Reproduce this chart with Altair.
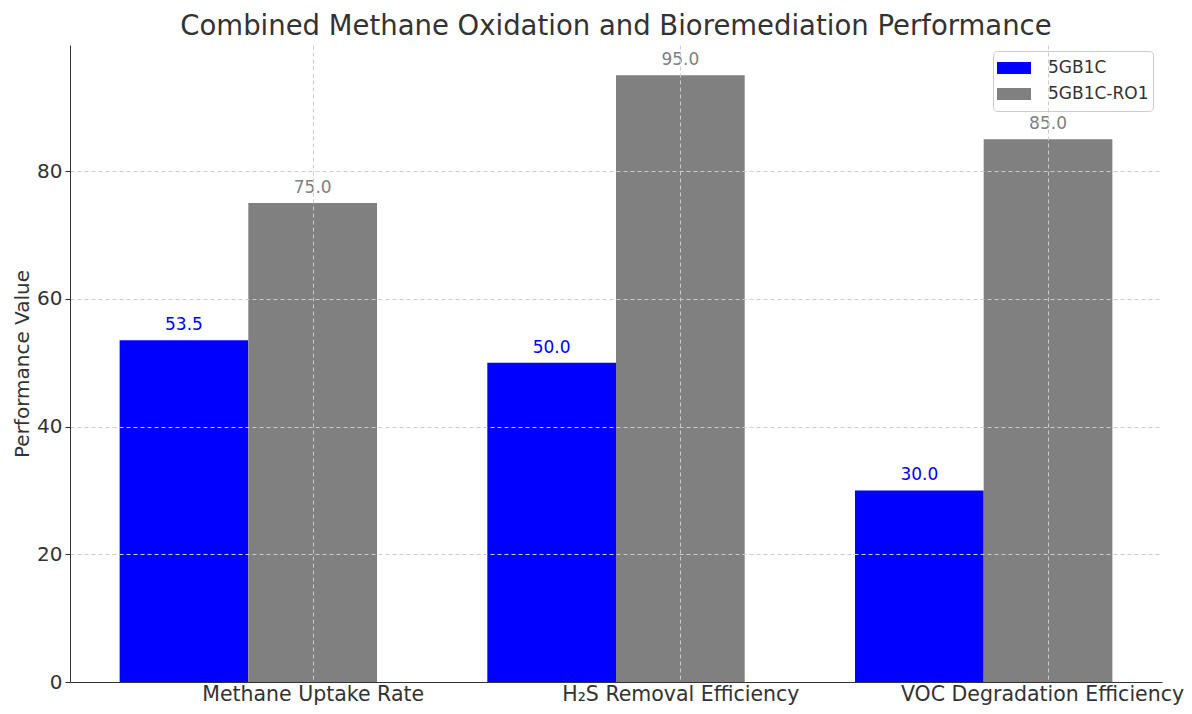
import json
import altair as alt
import pandas as pd

categories = ["Methane Uptake Rate", "H\u2082S Removal Efficiency", "VOC Degradation Efficiency"]
series = ["5GB1C", "5GB1C-RO1"]
values_5gb1c = [53.5, 50.0, 30.0]
values_ro1 = [75.0, 95.0, 85.0]
colors = ["#0000ff", "#808080"]
y_ticks = [0, 20, 40, 60, 80]

BAR_W = 0.35
offsets = {"5GB1C": -BAR_W, "5GB1C-RO1": 0.0}

rows = []
for i, c in enumerate(categories):
    for s, vals in zip(series, [values_5gb1c, values_ro1]):
        center = i + offsets[s]
        rows.append({"category": c, "series": s, "value": vals[i],
                     "x0": center - BAR_W / 2, "x1": center + BAR_W / 2, "xc": center})
df = pd.DataFrame(rows)

FONT = "DejaVu Sans"
label_expr = json.dumps(categories, ensure_ascii=False) + "[round(datum.value)]"

xscale = alt.Scale(domain=[-0.66, 2.31], nice=False, zero=False)
yscale = alt.Scale(domain=[0, 99.75], nice=False)
cscale = alt.Scale(domain=series, range=colors)

x_axis = alt.Axis(
    values=[0, 1, 2], labelExpr=label_expr, title=None, grid=True,
    gridDash=[4, 3], gridColor="#cccccc", domainColor="#333333",
    tickColor="#333333", tickSize=0, labelFontSize=20.5, labelFont=FONT,
    labelColor="#333333", labelPadding=2, zindex=1, labelFlush=False,
    labelLimit=500, labelOverlap=False,
    labelOffset={"condition": {"test": "datum.value == 2", "value": -6}, "value": 0})
y_axis = alt.Axis(
    values=y_ticks, title="Performance Value", grid=True, gridDash=[4, 3],
    gridColor="#cccccc", domainColor="#333333", tickColor="#333333",
    tickSize=5, labelFontSize=20, labelFont=FONT, labelColor="#333333",
    titleFontSize=20, titleFont=FONT, titleFontWeight="normal",
    titleColor="#333333", titlePadding=4, labelPadding=3, zindex=1)

bars = alt.Chart(df).mark_bar().encode(
    x=alt.X("x0:Q", scale=xscale, axis=x_axis),
    x2="x1:Q",
    y=alt.Y("value:Q", scale=yscale, axis=y_axis),
    y2=alt.datum(0),
    color=alt.Color("series:N", scale=cscale, legend=alt.Legend(
        title=None, orient="none", legendX=923, legendY=6,
        symbolType="M-1,-0.35H1V0.35H-1Z", symbolSize=1156,
        symbolStrokeWidth=0, labelFontSize=17, labelFont=FONT,
        labelColor="#333333", labelOffset=17, clipHeight=26, rowPadding=0,
        padding=4, strokeColor="#cccccc", fillColor="white",
        cornerRadius=4)),
)

texts = alt.Chart(df).mark_text(baseline="bottom", dy=-6, fontSize=17, font=FONT).encode(
    x=alt.X("xc:Q", scale=xscale, axis=x_axis),
    y=alt.Y("value:Q", scale=yscale, axis=y_axis),
    text=alt.Text("value:Q", format=".1f"),
    color=alt.Color("series:N", scale=cscale, legend=None),
)

chart = alt.layer(bars, texts).properties(
    width=1092, height=637,
    title=alt.TitleParams("Combined Methane Oxidation and Bioremediation Performance",
                          fontSize=27.5, font=FONT, fontWeight="normal",
                          color="#333333", anchor="middle", offset=5),
    autosize=alt.AutoSizeParams(type="none"),
    padding={"left": 62, "top": 37, "right": 22, "bottom": 23},
    view=alt.ViewBackground(strokeWidth=0, stroke="transparent"),
).configure_view(strokeWidth=0, stroke="transparent").configure(background="white")

chart.save("out.html", embed_options={"renderer": "svg", "actions": False})
